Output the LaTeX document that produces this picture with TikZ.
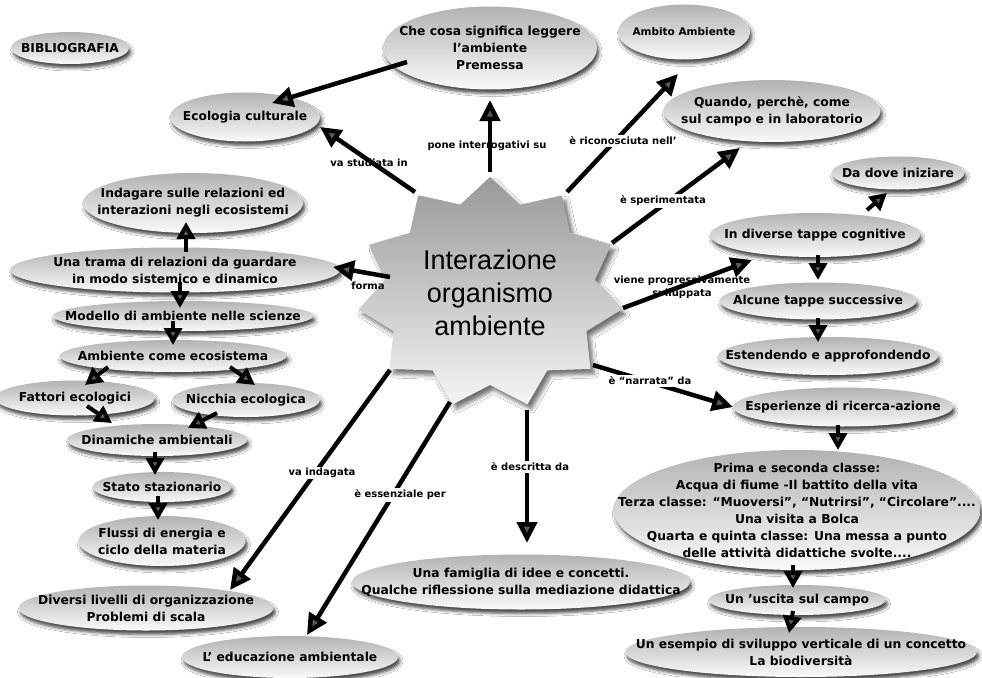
\documentclass[tikz,border=0pt]{standalone}
\usepackage{fontspec}
\setmainfont{DejaVu Sans}
\newfontfamily\corefont{Liberation Sans}
\usetikzlibrary{arrows.meta,shadows.blur}

\tikzset{
  bubfill/.style={top color=black!30, bottom color=black!2,
    blur shadow={shadow xshift=2pt, shadow yshift=-4pt, shadow blur radius=3pt, shadow opacity=70}},
  starfill/.style={top color=black!40, bottom color=black!4,
    blur shadow={shadow xshift=4pt, shadow yshift=-5pt, shadow blur radius=4pt, shadow opacity=55}},
  concepttext/.style={font=\fontsize{12.3}{17}\selectfont\bfseries, align=center, inner sep=0pt},
  conn/.style={line width=4.5pt, -{Triangle[length=21pt,width=20pt]}},
  chainarrow/.style={line width=4pt, -{Triangle[length=17pt,width=18pt]}},
  linklabel/.style={font=\fontsize{10}{13}\selectfont\bfseries, inner sep=1.5pt, align=center},
  gapped/.style={fill=white},
}

% ellipse with shading and shadow, text node named #1 on top
\newcommand\conceptbubble[6]{%
  \path[bubfill] (#2,#3) ellipse [x radius=#4*0.5pt, y radius=#5*0.5pt];
  \node[concepttext] (#1) at (#2,#3) {#6};}

\begin{document}
\begin{tikzpicture}[x=1pt,y=-1pt]
\useasboundingbox (0,0) rectangle (982,677);
\fill[white] (0,0) rectangle (982,677);

% central eleven-pointed star
\path[starfill, shift={(490,293)}] (0,-116)
  \foreach \i [evaluate=\i as \rx using {mod(\i,2)==0 ? 133 : 106},
               evaluate=\i as \ry using {mod(\i,2)==0 ? 116 : 92}] in {1,...,21}
  { -- ({\rx*cos(-90+\i*360/22)},{\ry*sin(-90+\i*360/22)}) } -- cycle;
\node[font=\corefont\fontsize{27}{33}\selectfont, align=center, inner sep=0pt] (core) at (490,293)
  {Interazione\\organismo\\ambiente};

% concepts
\conceptbubble{bib}{70}{48}{118}{32}{BIBLIOGRAFIA}
\conceptbubble{che}{490}{48}{214}{83}{Che cosa significa leggere\\l'ambiente\\Premessa}
\conceptbubble{amb}{684}{32}{132}{55}{\fontsize{10.5}{13}\selectfont Ambito Ambiente}
\conceptbubble{eco}{245}{117}{150}{49}{Ecologia culturale}
\conceptbubble{qua}{772}{111}{217}{62}{Quando, perchè, come\\sul campo e in laboratorio}
\conceptbubble{dov}{898}{173}{133}{33}{Da dove iniziare}
\conceptbubble{div}{815}{235}{210}{44}{In diverse tappe cognitive}
\conceptbubble{alc}{818}{301}{197}{37}{Alcune tappe successive}
\conceptbubble{est}{828}{356}{220}{38}{Estendendo e approfondendo}
\conceptbubble{esp}{843}{407}{220}{39}{Esperienze di ricerca-azione}
\conceptbubble{big}{797}{510}{367}{120}{Prima e seconda classe:\\Acqua di fiume -Il battito della vita\\Terza classe: ``Muoversi'', ``Nutrirsi'', ``Circolare''....\\Una visita a Bolca\\Quarta e quinta classe:  Una messa a punto\\delle attività didattiche svolte....}
\conceptbubble{usc}{797}{600}{177}{30}{Un 'uscita sul campo}
\conceptbubble{ese}{801}{652}{352}{50}{Un esempio di sviluppo verticale di un concetto\\La biodiversità}
\conceptbubble{fam}{521}{582}{338}{55}{Una famiglia di idee e  concetti.\\Qualche riflessione sulla mediazione didattica}
\conceptbubble{edu}{290}{657}{216}{42}{L' educazione ambientale}
\conceptbubble{dl}{146}{608}{255}{45}{Diversi livelli di organizzazione\\Problemi di scala}
\conceptbubble{flu}{162}{541}{167}{50}{Flussi di energia e\\ciclo della materia}
\conceptbubble{sta}{162}{487}{139}{30}{Stato stazionario}
\conceptbubble{dyn}{157}{440}{180}{32}{Dinamiche ambientali}
\conceptbubble{fat}{75}{398}{160}{35}{Fattori ecologici}
\conceptbubble{nic}{246}{400}{148}{34}{Nicchia ecologica}
\conceptbubble{ace}{173}{356}{227}{32}{Ambiente come ecosistema}
\conceptbubble{mod}{183}{316}{260}{30}{Modello di ambiente nelle scienze}
\conceptbubble{uno}{175}{270}{330}{45}{Una trama di relazioni  da guardare\\in modo sistemico e dinamico}
\conceptbubble{ind}{193}{203}{220}{60}{Indagare sulle relazioni ed\\interazioni negli ecosistemi}

% links leaving the star
\draw[conn] ([shift={(-75,-101)}]core.center) -- ([shift={(75,10)}]eco.center);
\draw[conn] ([shift={(0,-121)}]core.center) -- ([shift={(0,52)}]che.center);
\draw[conn] ([shift={(77,-101)}]core.center) -- ([shift={(-6,42)}]amb.center);
\draw[conn] ([shift={(122,-50)}]core.center) -- ([shift={(-32,37)}]qua.center);
\draw[conn] ([shift={(133,15)}]core.center) -- ([shift={(-63,25)}]div.center);
\draw[conn] ([shift={(103,72)}]core.center) -- ([shift={(-110,0)}]esp.center);
\draw[conn] ([shift={(-100,-16)}]core.center) -- ([shift={(158,-3)}]uno.center);
\draw[conn] ([shift={(-100,77)}]core.center) -- ([shift={(84,-18)}]dl.center);
\draw[conn] ([shift={(-40,109)}]core.center) -- ([shift={(17,-22)}]edu.center);
\draw[conn] ([shift={(37,117)}]core.center) -- ([shift={(6,-39)}]fam.center);
\draw[conn] ([shift={(-83,14)}]che.center) -- ([shift={(27,-14)}]eco.center);

% link labels
\node[linklabel] (l-stu) at (369,163) {va studiata in};
\node[linklabel] (l-pon) at (487,146) {pone interrogativi su};
\node[linklabel, gapped] (l-ric) at (623,141) {è riconosciuta nell'};
\node[linklabel, gapped] (l-spe) at (663,201) {è sperimentata};
\node[linklabel] (l-vie) at (682,287) {viene progressivamente\\sviluppata};
\node[linklabel, gapped] (l-nar) at (650,381) {è ``narrata'' da};
\node[linklabel] (l-for) at (368,286) {forma};
\node[linklabel, gapped] (l-ind) at (322,473) {va indagata};
\node[linklabel, gapped] (l-ess) at (400,495) {è essenziale per};
\node[linklabel, gapped] (l-des) at (530,467) {è descritta da};

% left chain
\draw[chainarrow] ([shift={(11,-18)}]uno.center) -- ([shift={(-7,19)}]ind.center);
\draw[chainarrow] ([shift={(5,12)}]uno.center) -- ([shift={(-3,-8)}]mod.center);
\draw[chainarrow] ([shift={(-10,5)}]mod.center) -- ([shift={(0,-11)}]ace.center);
\draw[chainarrow] ([shift={(-65,11)}]ace.center) -- ([shift={(10,-13)}]fat.center);
\draw[chainarrow] ([shift={(57,11)}]ace.center) -- ([shift={(9,-15)}]nic.center);
\draw[chainarrow] ([shift={(12,8)}]fat.center) -- ([shift={(-45,-17)}]dyn.center);
\draw[chainarrow] ([shift={(-29,13)}]nic.center) -- ([shift={(31,-12)}]dyn.center);
\draw[chainarrow] ([shift={(-2,12)}]dyn.center) -- ([shift={(-7,-12)}]sta.center);
\draw[chainarrow] ([shift={(-4,9)}]sta.center) -- ([shift={(-4,-21)}]flu.center);

% right chain
\draw[chainarrow] ([shift={(52,-25)}]div.center) -- ([shift={(-11,20)}]dov.center);
\draw[chainarrow] ([shift={(3,20)}]div.center) -- ([shift={(0,-21)}]alc.center);
\draw[chainarrow] ([shift={(0,17)}]alc.center) -- ([shift={(-10,-14)}]est.center);
\draw[chainarrow] ([shift={(-5,18)}]esp.center) -- ([shift={(41,-60)}]big.center);
\draw[chainarrow] ([shift={(-4,55)}]big.center) -- ([shift={(-4,-12)}]usc.center);
\draw[chainarrow] ([shift={(-4,11)}]usc.center) -- ([shift={(-12,-19)}]ese.center);
\end{tikzpicture}
\end{document}
